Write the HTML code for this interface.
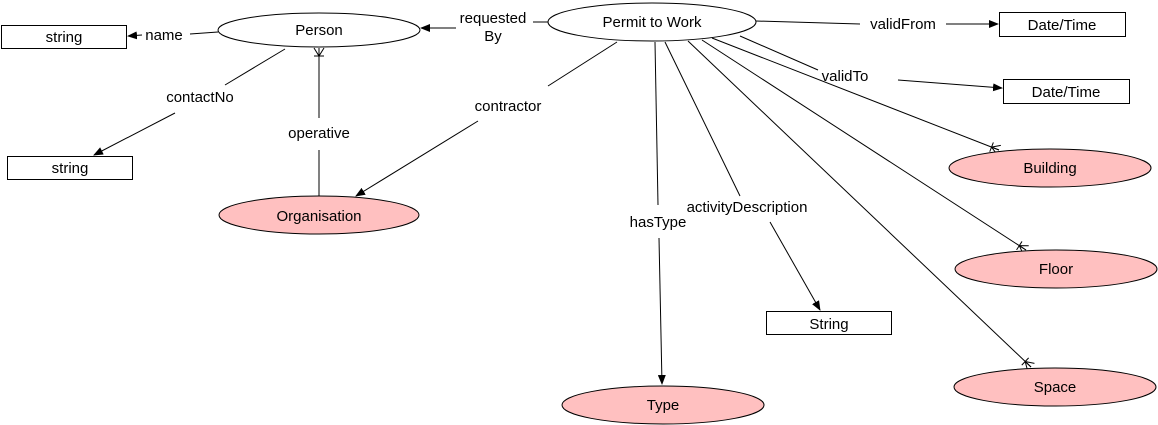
<!DOCTYPE html>
<html><head><style>
body{margin:0;background:#fff;}
svg{display:block;font-family:"Liberation Sans",Arial,sans-serif;font-size:15px;}
</style></head><body>
<svg width="1158" height="425" viewBox="0 0 1158 425">
<defs>
<marker id="a" markerWidth="10" markerHeight="8" refX="9" refY="4" orient="auto" markerUnits="userSpaceOnUse">
<path d="M0,0 L10,4 L0,8 Z" fill="#000"/></marker>
<marker id="c" markerWidth="14" markerHeight="12" refX="13" refY="6" orient="auto" markerUnits="userSpaceOnUse">
<path d="M13,1 L5,6 L13,11 M5,1 L5,11 M5,6 L13,6" stroke="#000" fill="none" stroke-width="1"/></marker>
</defs>
<g stroke="#000" stroke-width="1" fill="none">
<line x1="218" y1="32" x2="190" y2="34"/>
<line x1="142" y1="35" x2="128" y2="36" marker-end="url(#a)"/>
<line x1="548" y1="22" x2="533" y2="22"/>
<line x1="456" y1="28" x2="421" y2="28" marker-end="url(#a)"/>
<line x1="285" y1="49" x2="225" y2="85"/>
<line x1="175" y1="113" x2="94" y2="155" marker-end="url(#a)"/>
<line x1="319" y1="196" x2="319" y2="150"/>
<line x1="319" y1="118" x2="319" y2="48" marker-end="url(#c)"/>
<line x1="617" y1="42" x2="548" y2="86"/>
<line x1="478" y1="121" x2="356" y2="196" marker-end="url(#a)"/>
<line x1="655" y1="42" x2="658" y2="205"/>
<line x1="659" y1="238" x2="662" y2="384" marker-end="url(#a)"/>
<line x1="665" y1="42" x2="740" y2="196"/>
<line x1="770" y1="222" x2="820" y2="310" marker-end="url(#a)"/>
<line x1="756" y1="21" x2="860" y2="24"/>
<line x1="946" y1="24" x2="998" y2="24" marker-end="url(#a)"/>
<line x1="740" y1="36" x2="818" y2="70"/>
<line x1="898" y1="80" x2="1002" y2="88" marker-end="url(#a)"/>
<line x1="712" y1="38" x2="999" y2="150" marker-end="url(#c)"/>
<line x1="702" y1="40" x2="1026" y2="250" marker-end="url(#c)"/>
<line x1="688" y1="41" x2="1031" y2="367" marker-end="url(#c)"/>
</g>
<g stroke="#000" stroke-width="1">
<ellipse cx="319" cy="30" rx="101" ry="17" fill="#fff"/>
<ellipse cx="652" cy="22" rx="104" ry="19" fill="#fff"/>
<rect x="1.5" y="25.5" width="125" height="23" fill="#fff"/>
<rect x="7.5" y="156.5" width="125" height="23" fill="#fff"/>
<rect x="999.5" y="12.5" width="126" height="24" fill="#fff"/>
<rect x="1003.5" y="79.5" width="126" height="24" fill="#fff"/>
<rect x="766.5" y="311.5" width="125" height="23" fill="#fff"/>
<ellipse cx="319" cy="215" rx="100" ry="19" fill="#ffc0c0"/>
<ellipse cx="1050" cy="168" rx="101" ry="19" fill="#ffc0c0"/>
<ellipse cx="1056" cy="269" rx="101" ry="19" fill="#ffc0c0"/>
<ellipse cx="1055" cy="387" rx="101" ry="19" fill="#ffc0c0"/>
<ellipse cx="663" cy="405" rx="101" ry="19" fill="#ffc0c0"/>
</g>
<g text-anchor="middle" fill="#000">
<text x="319" y="35">Person</text>
<text x="652" y="27">Permit to Work</text>
<text x="64" y="42">string</text>
<text x="70" y="173">string</text>
<text x="1062" y="30">Date/Time</text>
<text x="1066" y="97">Date/Time</text>
<text x="829" y="329">String</text>
<text x="319" y="221">Organisation</text>
<text x="1050" y="173">Building</text>
<text x="1056" y="274">Floor</text>
<text x="1055" y="392">Space</text>
<text x="663" y="410">Type</text>
<text x="164" y="40">name</text>
<text x="493" y="23">requested</text>
<text x="493" y="41">By</text>
<text x="200" y="102">contactNo</text>
<text x="319" y="138">operative</text>
<text x="508" y="111">contractor</text>
<text x="658" y="227">hasType</text>
<text x="747" y="212">activityDescription</text>
<text x="903" y="29">validFrom</text>
<text x="845" y="81">validTo</text>
</g>
</svg>
</body></html>
